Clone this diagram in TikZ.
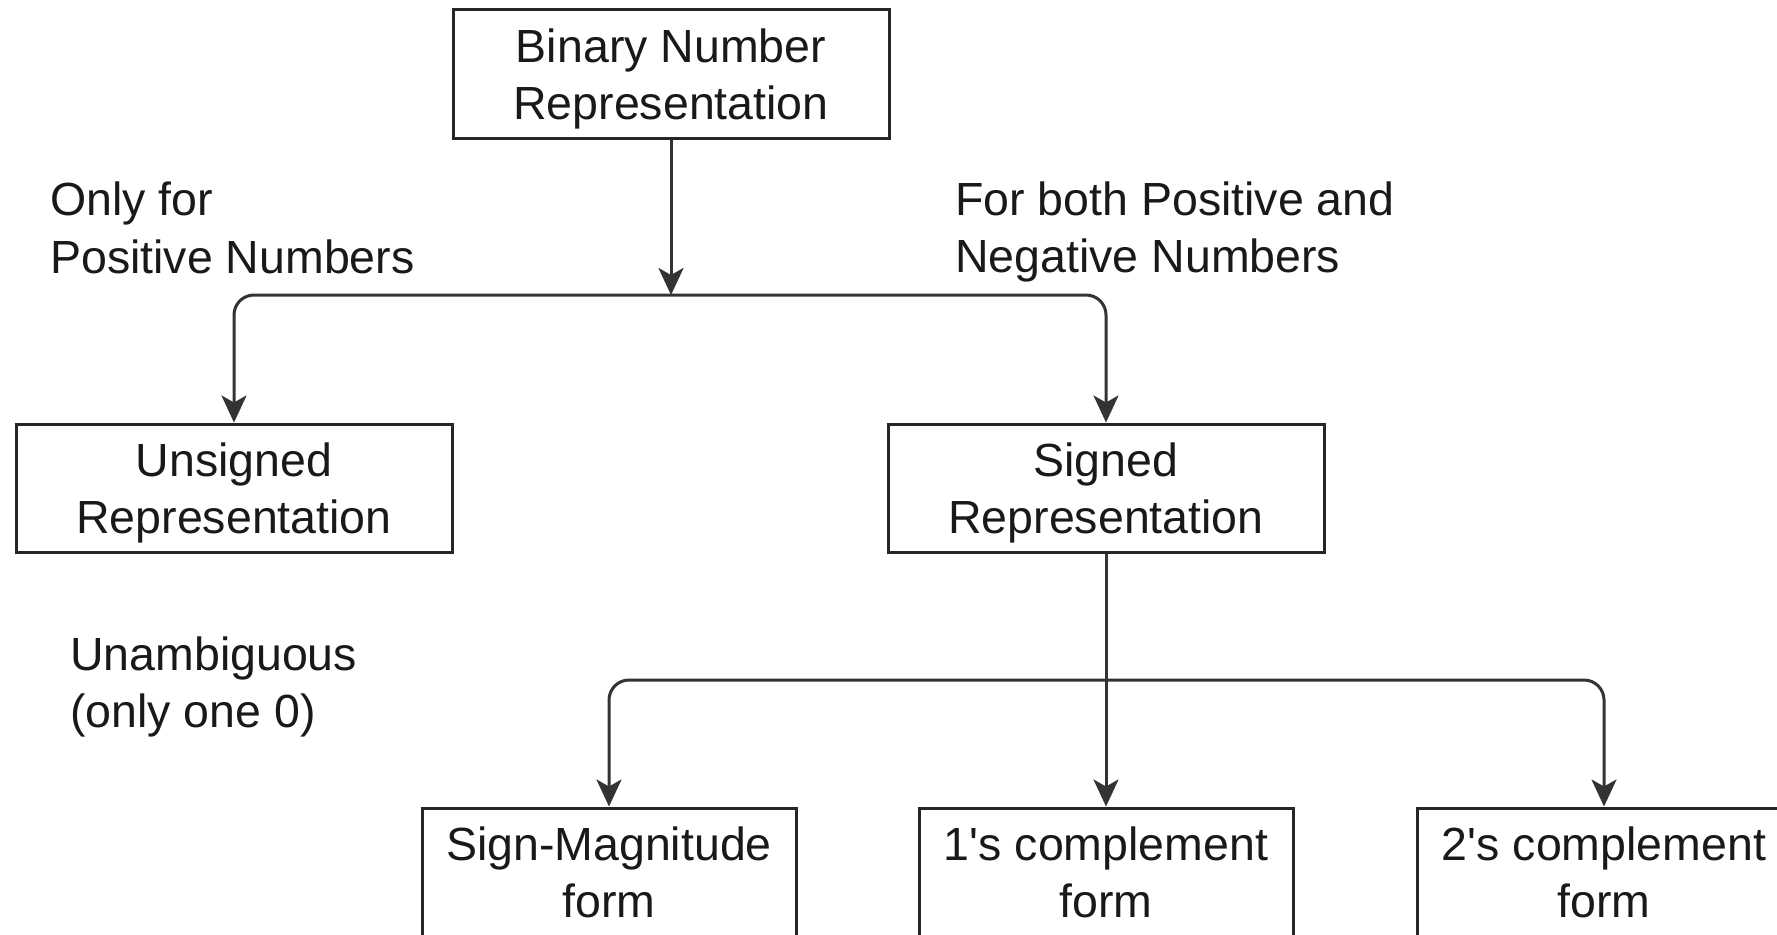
\documentclass[tikz,border=0pt]{standalone}
\usepackage{fontspec}
\setmainfont{Liberation Sans}
\usetikzlibrary{arrows.meta}
% two centred lines, hung below the box centre by the given amount
\newcommand\twolines[3]{\raisebox{-#1}[0pt][0pt]{\begin{tabular}{@{}c@{}}#2\\#3\end{tabular}}}
\begin{document}
\begin{tikzpicture}[x=1pt,y=-1pt,
  every node/.style={font=\fontsize{46.5}{57.5}\selectfont, text=black!90},
  box/.style={draw=black!85, line width=3pt, inner sep=0pt,
    minimum height=128pt, minimum width=#1},
  box/.default=436pt,
  note/.style={anchor=west, align=left, inner sep=0pt},
  link/.style={draw=black!80, line width=3pt, rounded corners=20pt,
    -{Stealth[length=27pt,width=25pt,inset=7pt]}}]
  \useasboundingbox (0,0) rectangle (1777,934);

  % boxes
  \node[box] (bin) at (671,74) {\twolines{11.5pt}{Binary Number}{Representation}};
  \node[box] (uns) at (234,488) {\twolines{11.5pt}{Unsigned}{Representation}};
  \node[box] (sig) at (1106,488) {\twolines{11.5pt}{Signed}{Representation}};
  \node[box=374pt] (sm) at (609,872) {\twolines{11.5pt}{Sign-Magnitude}{form}};
  \node[box=374pt] (one) at (1106,872) {\twolines{11.5pt}{1\textquotesingle s complement}{form}};
  \node[box=374pt] (two) at (1604,872) {\twolines{11.5pt}{2\textquotesingle s complement}{form}};

  % junction points
  \coordinate (j1) at (671,295);
  \coordinate (j2) at (1106,680);

  % notes
  \node[note] (pos) at (50,228) {Only for\\Positive Numbers};
  \node[note] (both) at (955,232) {For both Positive and\\Negative Numbers};
  \node[note] (amb) at (70,687) {Unambiguous\\(only one 0)};

  % connectors
  \draw[link] (bin.south) -- (j1);
  \draw[link] (j1) -| (uns.north);
  \draw[link] (j1) -| (sig.north);
  \draw[link] (sig.south) -- (one.north);
  \draw[link] (j2) -| (sm.north);
  \draw[link] (j2) -| (two.north);
\end{tikzpicture}
\end{document}
